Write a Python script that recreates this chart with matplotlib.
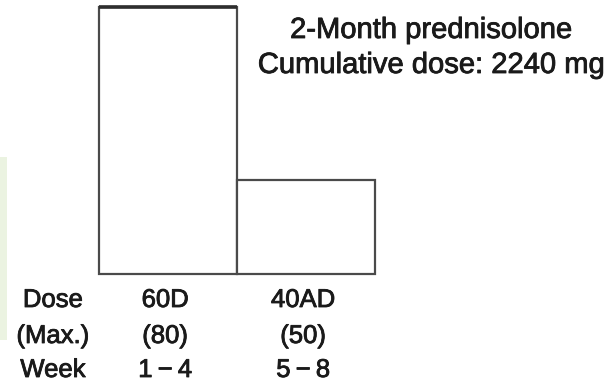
import matplotlib
matplotlib.use("Agg")
import matplotlib.pyplot as plt
import matplotlib.patheffects as pe
from matplotlib.patches import Rectangle
from matplotlib.transforms import blended_transform_factory

# Data
phases = ["60D", "40AD"]
max_doses = ["(80)", "(50)"]
weeks = ["1\u2009\u2212\u20094", "5\u2009\u2212\u20098"]
avg_daily_dose = [60, 21]          # bar heights (mean daily dose, mg)
row_labels = ["Dose", "(Max.)", "Week"]
title_lines = ["2-Month prednisolone", "Cumulative dose: 2240 mg"]

plt.rcParams['font.family'] = ['Liberation Sans', 'DejaVu Sans']

W, H = 612, 382
fig = plt.figure(figsize=(W / 100, H / 100), dpi=100)
fig.patch.set_facecolor("white")

# light green strip at left edge
fig.patches.append(Rectangle((0, 1 - 340 / H), 7 / W, (340 - 157) / H,
                             transform=fig.transFigure, facecolor="#ebf3e1",
                             edgecolor="none", zorder=0))

left, right, bottom, top = 99, 375, 273.5, 6.5
ax = fig.add_axes([left / W, 1 - bottom / H, (right - left) / W, (bottom - top) / H])
ax.set_xlim(0, len(phases))
ax.set_ylim(0, max(avg_daily_dose))
ax.axis("off")

xs = list(range(len(phases)))
bars = ax.bar(xs, avg_daily_dose, width=1.0, align="edge", facecolor="white",
              edgecolor="#4a4a4a", linewidth=1.6)
for b in bars:
    b.set_clip_on(False)
# thicker dark top line of first bar
ax.hlines(avg_daily_dose[0], xs[0], xs[0] + 1, colors="#2e2e2e", linewidth=2.6,
          clip_on=False, zorder=3)

tc = "#1a1a1a"
fx = [pe.withStroke(linewidth=0.6, foreground=tc)]
fs = 18.5
trans = blended_transform_factory(ax.transData, fig.transFigure)
baselines = [307, 343, 377]
for i, (p, m, w) in enumerate(zip(phases, max_doses, weeks)):
    cx = xs[i] + 0.5 - 0.02
    for txt, yb in zip([p, m, w], baselines):
        ax.text(cx, 1 - yb / H, txt, transform=trans, ha="center", va="baseline",
                fontsize=fs, color=tc, path_effects=fx)

for txt, yb in zip(row_labels, baselines):
    fig.text(53 / W, 1 - yb / H, txt, ha="center", va="baseline", fontsize=fs,
             color=tc, path_effects=fx)

fig.text(431 / W, 1 - 38 / H, title_lines[0], ha="center", va="baseline",
         fontsize=21, color=tc, path_effects=fx)
fig.text(431 / W, 1 - 73 / H, title_lines[1], ha="center", va="baseline",
         fontsize=21, color=tc, path_effects=fx)

fig.savefig("out.png", dpi=100, facecolor="white")
